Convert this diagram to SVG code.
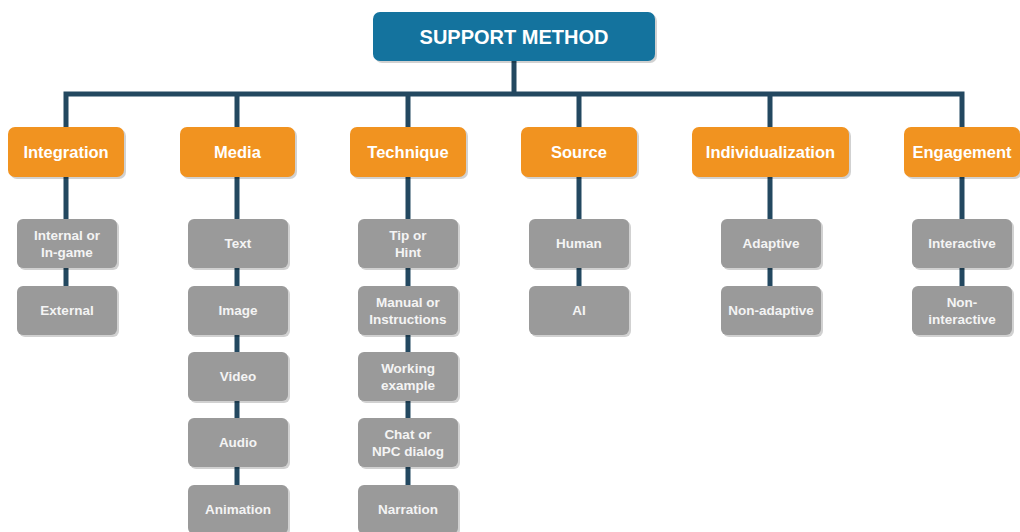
<svg xmlns="http://www.w3.org/2000/svg" width="1020" height="532" viewBox="0 0 1020 532">
<style>
.conn{stroke:#234860;stroke-width:5;fill:none;stroke-linecap:square}
.sh{fill:#000;opacity:0.18}
.root{fill:#14739e}
.cat{fill:#f19320}
.leaf{fill:#9a9a9a}
text{font-family:"Liberation Sans",Arial,sans-serif;font-weight:bold;fill:#ffffff;text-anchor:middle}
.t0{font-size:20px}
.t1{font-size:16.5px}
.t2{font-size:13.5px;fill:#f4f4f4}
</style>
<rect width="1020" height="532" fill="#ffffff"/>
<g id="connectors">
<path class="conn" d="M514 61V94M66 127V94H962V127M237 94V127M408 94V127M579 94V127M770 94V127"/>
<path class="conn" d="M66 177V310"/>
<path class="conn" d="M237 177V510"/>
<path class="conn" d="M408 177V510"/>
<path class="conn" d="M579 177V310"/>
<path class="conn" d="M770 177V310"/>
<path class="conn" d="M962 177V310"/>
</g>
<g id="support-method"><rect class="sh" x="375" y="14" width="282" height="49" rx="7"/><rect class="root" x="373" y="12" width="282" height="49" rx="7"/><text class="t0" x="514" y="43.5">SUPPORT METHOD</text></g>
<g id="integration"><rect class="sh" x="10" y="129" width="116" height="50" rx="7"/><rect class="cat" x="8" y="127" width="116" height="50" rx="7"/><text class="t1" x="66" y="158">Integration</text></g>
<g id="media"><rect class="sh" x="182" y="129" width="115" height="50" rx="7"/><rect class="cat" x="180" y="127" width="115" height="50" rx="7"/><text class="t1" x="237.5" y="158">Media</text></g>
<g id="technique"><rect class="sh" x="352" y="129" width="116" height="50" rx="7"/><rect class="cat" x="350" y="127" width="116" height="50" rx="7"/><text class="t1" x="408" y="158">Technique</text></g>
<g id="source"><rect class="sh" x="523" y="129" width="116" height="50" rx="7"/><rect class="cat" x="521" y="127" width="116" height="50" rx="7"/><text class="t1" x="579" y="158">Source</text></g>
<g id="individualization"><rect class="sh" x="694" y="129" width="157" height="50" rx="7"/><rect class="cat" x="692" y="127" width="157" height="50" rx="7"/><text class="t1" x="770.5" y="158">Individualization</text></g>
<g id="engagement"><rect class="sh" x="906" y="129" width="116" height="50" rx="7"/><rect class="cat" x="904" y="127" width="116" height="50" rx="7"/><text class="t1" x="962" y="158">Engagement</text></g>

<g id="internal"><rect class="sh" x="19" y="221" width="100" height="49" rx="6"/><rect class="leaf" x="17" y="219" width="100" height="49" rx="6"/><text class="t2" x="67" y="240">Internal or</text><text class="t2" x="67" y="256.5">In-game</text></g>
<g id="external"><rect class="sh" x="19" y="288" width="100" height="49" rx="6"/><rect class="leaf" x="17" y="286" width="100" height="49" rx="6"/><text class="t2" x="67" y="315">External</text></g>

<g id="text"><rect class="sh" x="190" y="221" width="100" height="49" rx="6"/><rect class="leaf" x="188" y="219" width="100" height="49" rx="6"/><text class="t2" x="238" y="248">Text</text></g>
<g id="image"><rect class="sh" x="190" y="288" width="100" height="49" rx="6"/><rect class="leaf" x="188" y="286" width="100" height="49" rx="6"/><text class="t2" x="238" y="315">Image</text></g>
<g id="video"><rect class="sh" x="190" y="354" width="100" height="49" rx="6"/><rect class="leaf" x="188" y="352" width="100" height="49" rx="6"/><text class="t2" x="238" y="381">Video</text></g>
<g id="audio"><rect class="sh" x="190" y="420" width="100" height="49" rx="6"/><rect class="leaf" x="188" y="418" width="100" height="49" rx="6"/><text class="t2" x="238" y="447">Audio</text></g>
<g id="animation"><rect class="sh" x="190" y="487" width="100" height="49" rx="6"/><rect class="leaf" x="188" y="485" width="100" height="49" rx="6"/><text class="t2" x="238" y="514">Animation</text></g>

<g id="tip"><rect class="sh" x="360" y="221" width="100" height="49" rx="6"/><rect class="leaf" x="358" y="219" width="100" height="49" rx="6"/><text class="t2" x="408" y="240">Tip or</text><text class="t2" x="408" y="256.5">Hint</text></g>
<g id="manual"><rect class="sh" x="360" y="288" width="100" height="49" rx="6"/><rect class="leaf" x="358" y="286" width="100" height="49" rx="6"/><text class="t2" x="408" y="307">Manual or</text><text class="t2" x="408" y="323.5">Instructions</text></g>
<g id="working"><rect class="sh" x="360" y="354" width="100" height="49" rx="6"/><rect class="leaf" x="358" y="352" width="100" height="49" rx="6"/><text class="t2" x="408" y="373">Working</text><text class="t2" x="408" y="389.5">example</text></g>
<g id="chat"><rect class="sh" x="360" y="420" width="100" height="49" rx="6"/><rect class="leaf" x="358" y="418" width="100" height="49" rx="6"/><text class="t2" x="408" y="439">Chat or</text><text class="t2" x="408" y="455.5">NPC dialog</text></g>
<g id="narration"><rect class="sh" x="360" y="487" width="100" height="49" rx="6"/><rect class="leaf" x="358" y="485" width="100" height="49" rx="6"/><text class="t2" x="408" y="514">Narration</text></g>

<g id="human"><rect class="sh" x="531" y="221" width="100" height="49" rx="6"/><rect class="leaf" x="529" y="219" width="100" height="49" rx="6"/><text class="t2" x="579" y="248">Human</text></g>
<g id="ai"><rect class="sh" x="531" y="288" width="100" height="49" rx="6"/><rect class="leaf" x="529" y="286" width="100" height="49" rx="6"/><text class="t2" x="579" y="315">AI</text></g>

<g id="adaptive"><rect class="sh" x="723" y="221" width="100" height="49" rx="6"/><rect class="leaf" x="721" y="219" width="100" height="49" rx="6"/><text class="t2" x="771" y="248">Adaptive</text></g>
<g id="non-adaptive"><rect class="sh" x="723" y="288" width="100" height="49" rx="6"/><rect class="leaf" x="721" y="286" width="100" height="49" rx="6"/><text class="t2" x="771" y="315">Non-adaptive</text></g>

<g id="interactive"><rect class="sh" x="914" y="221" width="100" height="49" rx="6"/><rect class="leaf" x="912" y="219" width="100" height="49" rx="6"/><text class="t2" x="962" y="248">Interactive</text></g>
<g id="non-interactive"><rect class="sh" x="914" y="288" width="100" height="49" rx="6"/><rect class="leaf" x="912" y="286" width="100" height="49" rx="6"/><text class="t2" x="962" y="307">Non-</text><text class="t2" x="962" y="323.5">interactive</text></g>
</svg>
